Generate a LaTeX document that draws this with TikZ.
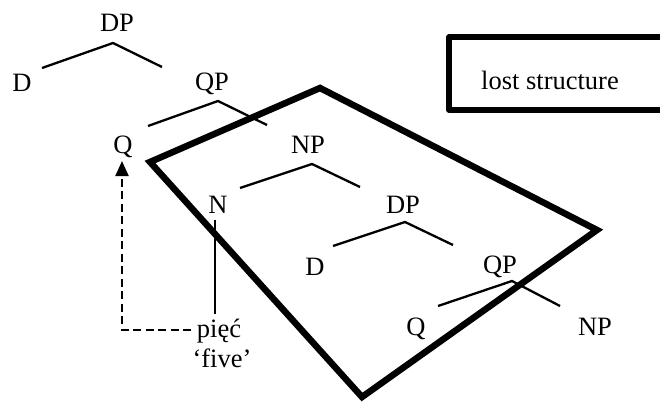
\documentclass[tikz,border=0pt]{standalone}
\usepackage{fontspec}
\setmainfont{Liberation Serif}
\usetikzlibrary{arrows.meta}
\begin{document}
\begin{tikzpicture}[x=1pt,y=-1pt,
  lbl/.style={anchor=base,inner sep=0pt,font=\fontsize{26.5}{31}\selectfont},
  branch/.style={line width=2.3pt,line join=miter},
  thickline/.style={line width=6.5pt,line join=miter},
  dashconn/.style={line width=2.2pt,dash pattern=on 8pt off 4.5pt,-{Triangle[length=15pt,width=13pt]}}]
\path[use as bounding box] (0,0) rectangle (660,401);
\clip (0,0) rectangle (660,401);
% lost structure polygon
\coordinate (p1) at (150,162);
\coordinate (p2) at (320,88);
\coordinate (p3) at (597,230);
\coordinate (p4) at (362,397);
\draw[thickline] (p1) -- (p2) -- (p3) -- (p4) -- cycle;
% legend box
\coordinate (b1) at (680,37);
\coordinate (b2) at (449,37);
\coordinate (b3) at (449,110);
\coordinate (b4) at (680,110);
\draw[line width=5.5pt,line join=round] (b1) -- (b2) -- (b3) -- (b4);
\node[lbl] (legend) at (550,89) {lost structure};
% upper tree
\node[lbl] (dp1) at (117,32) {DP};
\node[lbl] (d1) at (22,92) {D};
\coordinate (dp1l) at (42,68);
\coordinate (dp1a) at (113,43);
\coordinate (dp1r) at (162,67);
\draw[branch] (dp1l) -- (dp1a) -- (dp1r);
\node[lbl] (qp1) at (212,91) {QP};
\node[lbl] (q1) at (123,153) {Q};
\coordinate (qp1l) at (148,126);
\coordinate (qp1a) at (218,101);
\coordinate (qp1r) at (267,125);
\draw[branch] (qp1l) -- (qp1a) -- (qp1r);
\node[lbl] (np1) at (308,153) {NP};
\node[lbl] (n1) at (218,213) {N};
\coordinate (np1l) at (240,188);
\coordinate (np1a) at (312,164);
\coordinate (np1r) at (360,187);
\draw[branch] (np1l) -- (np1a) -- (np1r);
% N to piec
\coordinate (nt) at (215,220);
\coordinate (nb) at (215,314);
\draw[branch] (nt) -- (nb);
\node[lbl] (piec) at (219,337) {pięć};
\node[lbl] (five) at (222,367) {‘five’};
% dashed movement arrow
\coordinate (dstart) at (191,330);
\coordinate (dtip) at (122,161);
\draw[dashconn] (dstart) -| (dtip);
% lower tree
\node[lbl] (dp2) at (403,213) {DP};
\node[lbl] (d2) at (315,275) {D};
\coordinate (dp2l) at (333,246);
\coordinate (dp2a) at (405,222);
\coordinate (dp2r) at (453,245);
\draw[branch] (dp2l) -- (dp2a) -- (dp2r);
\node[lbl] (qp2) at (500,273) {QP};
\node[lbl] (q2) at (416,335) {Q};
\node[lbl] (np2) at (595,335) {NP};
\coordinate (qp2l) at (438,306);
\coordinate (qp2a) at (512,281);
\coordinate (qp2r) at (560,306);
\draw[branch] (qp2l) -- (qp2a) -- (qp2r);
\end{tikzpicture}
\end{document}
